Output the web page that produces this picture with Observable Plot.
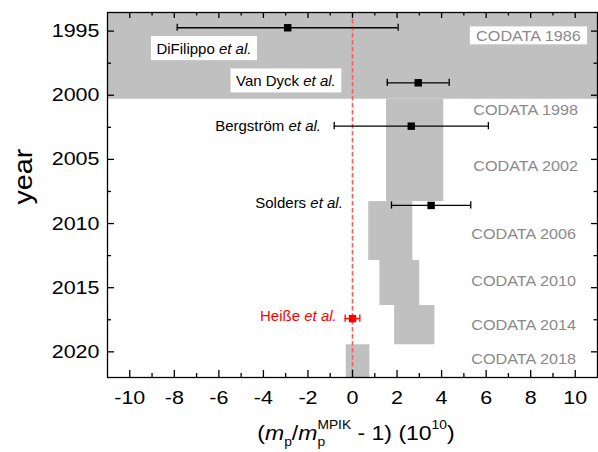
<!DOCTYPE html>
<html><head><meta charset="utf-8">
<script src="https://cdn.jsdelivr.net/npm/d3@7"></script>
<script src="https://cdn.jsdelivr.net/npm/@observablehq/plot@0.6"></script>
<style>html,body{margin:0;padding:0;background:#fff;} #chart svg{display:block;}</style>
</head><body><div id="chart"></div>
<script>
// CODATA bands (x in units of 1e-10, y in years)
const codataNames = ["CODATA 1986","CODATA 1998","CODATA 2002","CODATA 2006","CODATA 2010","CODATA 2014","CODATA 2018"];
const codataLow   = [-11, 1.53, 1.53, 0.73, 1.23, 1.89, -0.28];
const codataHigh  = [11, 4.10, 4.10, 2.71, 3.02, 3.70, 0.78];
const codataFrom  = [1993.55, 2000.31, 2002.2, 2008.29, 2012.88, 2016.39, 2019.45];
const codataTo    = [2000.31, 2002.2, 2008.29, 2012.88, 2016.39, 2019.45, 2022];
const codataLabelX    = [7.9, 7.77, 7.77, 7.68, 7.68, 7.68, 7.68];
const codataLabelYear = [1995.37, 2001.13, 2005.53, 2010.8, 2014.49, 2017.92, 2020.54];

// Measurements
const authors    = ["DiFilippo et al.","Van Dyck et al.","Bergström et al.","Solders et al.","Heiße et al."];
const measYear   = [1994.74, 1999.03, 2002.41, 2008.59, 2017.41];
const measValue  = [-2.91, 2.95, 2.64, 3.53, 0.0];
const measError  = [4.96, 1.39, 3.46, 1.78, 0.33];
const authorLabelX    = [-6.67, -2.99, -3.79, -2.4, -2.43];
const authorLabelYear = [1996.38, 1998.9, 2002.4, 2008.4, 2017.24];
const highlighted = "Heiße et al.";
const boxedLabels = ["DiFilippo et al.","Van Dyck et al.","CODATA 1986"];
const yLabel = "year";

// Tick values
const xMajor = [-10,-8,-6,-4,-2,0,2,4,6,8,10];
const xMinor = [-9,-7,-5,-3,-1,1,3,5,7,9];
const yMajor = [1995,2000,2005,2010,2015,2020];
const yMinor = [1997.5,2002.5,2007.5,2012.5,2017.5];
const xDomain = [-11, 11];
const yDomain = [1993.55, 2022];

const codata = codataNames.map((name,i)=>({name, lo:codataLow[i], hi:codataHigh[i], from:codataFrom[i], to:codataTo[i], lx:codataLabelX[i], ly:codataLabelYear[i]}));
const meas = authors.map((author,i)=>({author, year:measYear[i], value:measValue[i], err:measError[i], lx:authorLabelX[i], ly:authorLabelYear[i]}));

const W = 598, H = 452, mL = 107, mR = 1, mT = 12, mB = 75;
const FW = W - mL - mR, FH = H - mT - mB;
const col = d => d.author === highlighted ? "#ff0000" : "#000";

const svg = Plot.plot({
  width: W, height: H,
  marginLeft: mL, marginRight: mR, marginTop: mT, marginBottom: mB,
  style: {fontFamily: "'Liberation Sans', Arial, sans-serif", background: "#fff", overflow: "visible"},
  x: {domain: xDomain},
  y: {domain: yDomain, reverse: true},
  marks: [
    Plot.rect(codata, {x1: "lo", x2: "hi", y1: "from", y2: "to", fill: "#c0c0c0"}),
    Plot.ruleX([0], {x: d => d, stroke: "#ff5a5a", strokeWidth: 1.6, strokeDasharray: "4.5,2.5"}),
    Plot.ruleY(meas, {y: "year", x1: d => d.value - d.err, x2: d => d.value + d.err, stroke: col, strokeWidth: 1.3}),
    Plot.ruleX(meas, {x: d => d.value - d.err, y1: "year", y2: "year", insetTop: -3.6, insetBottom: -3.6, stroke: col, strokeWidth: 1.3}),
    Plot.ruleX(meas, {x: d => d.value + d.err, y1: "year", y2: "year", insetTop: -3.6, insetBottom: -3.6, stroke: col, strokeWidth: 1.3}),
    Plot.dot(meas, {x: "value", y: "year", symbol: "square", r: 4.2, fill: col, stroke: "none"}),
    Plot.text(meas, {x: "lx", y: "ly", text: "author", fontSize: 15, fill: col}),
    Plot.text(codata, {x: "lx", y: "ly", text: "name", fontSize: 15, fill: "#8a8a8a"}),
    Plot.frame({stroke: "#000", strokeWidth: 1.3}),
    Plot.tickX(xMajor, {x: d => d, insetTop: FH - 7, strokeWidth: 1.3}),
    Plot.tickX(xMinor, {x: d => d, insetTop: FH - 4, strokeWidth: 1.3}),
    Plot.tickX(xMajor, {x: d => d, insetBottom: FH - 6, strokeWidth: 1.3}),
    Plot.tickX(xMinor, {x: d => d, insetBottom: FH - 3.5, strokeWidth: 1.3}),
    Plot.tickY(yMajor, {y: d => d, insetRight: FW - 7, strokeWidth: 1.3}),
    Plot.tickY(yMinor, {y: d => d, insetRight: FW - 4, strokeWidth: 1.3}),
    Plot.tickY(yMajor, {y: d => d, insetLeft: FW - 6, strokeWidth: 1.3}),
    Plot.tickY(yMinor, {y: d => d, insetLeft: FW - 3.5, strokeWidth: 1.3}),
    Plot.axisX({ticks: xMajor, tickSize: 0, tickPadding: 13, fontSize: 19, label: null, tickFormat: d => String(d)}),
    Plot.axisY({ticks: yMajor, tickSize: 0, tickPadding: 8, fontSize: 19, label: null, tickFormat: d3.format("d")}),
    Plot.text([yLabel], {frameAnchor: "left", text: d => d, rotate: -90, dx: -84, dy: 9.5, fontSize: 25, fill: "#000"})
  ]
});
document.getElementById("chart").append(svg);
const sel = d3.select(svg);

function stretch(node, s) {
  const x = +node.getAttribute("x") || 0, y = +node.getAttribute("y") || 0;
  const tr = node.getAttribute("transform") || "";
  node.setAttribute("transform", `${tr} translate(${x},${y}) scale(${s},1) translate(${-x},${-y})`);
}

const tickTexts = new Set([...xMajor.map(String), ...yMajor.map(String)]);
const boxPad = {"DiFilippo et al.": [5.5, 3.5], "Van Dyck et al.": [5.5, 3.5], "CODATA 1986": [5.8, 0.8]};

sel.selectAll("text").each(function() {
  const t = this.textContent;
  if (authors.includes(t)) {
    const name = t.slice(0, t.length - 6);
    this.textContent = "";
    this.style.whiteSpace = "pre";
    d3.select(this).append("tspan").text(name);
    d3.select(this).append("tspan").attr("font-style", "italic").text("et al.");
  } else if (codataNames.includes(t)) {
    stretch(this, 1.08);
  } else if (t === yLabel) {
    stretch(this, 1.15);
  } else if (tickTexts.has(t)) {
    stretch(this, 1.13);
  }
  if (boxedLabels.includes(t)) {
    const b = this.getBBox();
    const p = boxPad[t];
    const r = document.createElementNS("http://www.w3.org/2000/svg", "rect");
    r.setAttribute("x", b.x - p[0]);
    r.setAttribute("y", b.y - p[1]);
    r.setAttribute("width", b.width + 2 * p[0]);
    r.setAttribute("height", b.height + 2 * p[1]);
    r.setAttribute("fill", "#fff");
    r.setAttribute("stroke", "none");
    const tr = this.getAttribute("transform");
    if (tr) r.setAttribute("transform", tr);
    this.parentNode.insertBefore(r, this);
  }
});

// x-axis label with sub/superscripts
const lbl = sel.append("text")
  .attr("x", (mL + W - mR) / 2 + 4).attr("y", 440)
  .attr("text-anchor", "middle").attr("font-size", 20).attr("fill", "#000")
  .style("white-space", "pre");
lbl.append("tspan").text("(");
lbl.append("tspan").attr("font-style", "italic").text("m");
lbl.append("tspan").attr("font-size", 12).attr("dy", 6).text("p");
lbl.append("tspan").attr("dy", -6).text("/");
lbl.append("tspan").attr("font-style", "italic").text("m");
const sub = lbl.append("tspan").attr("font-size", 12).attr("dy", 6).text("p");
const subW = sub.node().getComputedTextLength();
lbl.append("tspan").attr("font-size", 12).attr("dx", -subW).attr("dy", -17).text("MPIK");
lbl.append("tspan").attr("dy", 11).text(" - 1) (10");
lbl.append("tspan").attr("font-size", 12).attr("dy", -11).text("10");
lbl.append("tspan").attr("dy", 11).text(")");
stretch(lbl.node(), 1.15);
</script></body></html>
